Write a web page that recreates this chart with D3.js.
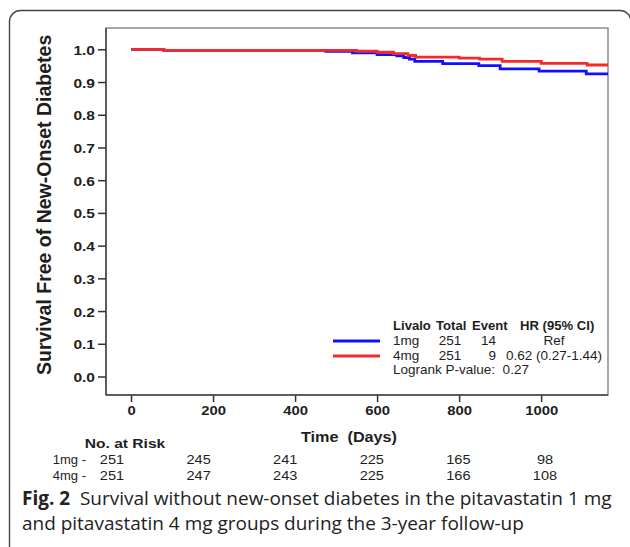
<!DOCTYPE html>
<html>
<head>
<meta charset="utf-8">
<script src="https://cdn.jsdelivr.net/npm/d3@7"></script>
<style>
  body { margin: 0; background: #fff; }
  svg text { font-family: "Liberation Sans", Arial, sans-serif; fill: #1e1e1e; }
  svg text.caption { font-family: "Open Sans", sans-serif; fill: #222; }
</style>
</head>
<body>
<div id="chart"></div>
<script>
// Kaplan-Meier steps (days, survival)
const days1mg = [0, 80, 475, 540, 600, 648, 665, 679, 692, 760, 848, 900, 995, 1110, 1163];
const surv1mg = [1.0, 0.997, 0.994, 0.989, 0.984, 0.980, 0.975, 0.970, 0.963, 0.956, 0.950, 0.940, 0.933, 0.925, 0.925];
const days4mg = [0, 80, 550, 600, 640, 675, 694, 800, 850, 905, 1000, 1112, 1163];
const surv4mg = [1.0, 0.997, 0.994, 0.991, 0.987, 0.981, 0.976, 0.973, 0.970, 0.963, 0.957, 0.952, 0.952];

const yTicks = [0, 0.1, 0.2, 0.3, 0.4, 0.5, 0.6, 0.7, 0.8, 0.9, 1.0];
const xTicks = [0, 200, 400, 600, 800, 1000];

// legend table
const groups = ["1mg", "4mg"];
const groupColors = ["#1010ff", "#f42a2a"];
const totals = [251, 251];
const events = [14, 9];
const hrText = ["Ref", "0.62 (0.27-1.44)"];
const logrankP = "0.27";

// number at risk
const riskDays = [0, 200, 400, 600, 800, 1000];
const risk1mg = [251, 245, 241, 225, 165, 98];
const risk4mg = [251, 247, 243, 225, 166, 108];

const W = 630, H = 547;
const plot = {left: 106, right: 608, top: 28, bottom: 395};

const svg = d3.select("#chart").append("svg")
    .attr("width", W).attr("height", H);

// figure box
svg.append("rect")
    .attr("x", 9.5).attr("y", 10.5)
    .attr("width", 621.5).attr("height", 560)
    .attr("rx", 11).attr("ry", 11)
    .attr("fill", "none").attr("stroke", "#444").attr("stroke-width", 1.4);

const x = d3.scaleLinear().domain([-61, 1163]).range([plot.left, plot.right]);
const y = d3.scaleLinear().domain([0, 1]).range([376.5, 49.3]);

// text that is a little stretched sideways like the original
function stretched(g, px, py, str, opts) {
    return g.append("text")
        .attr("transform", `translate(${px},${py}) scale(${opts.sx || 1},1)`)
        .attr("text-anchor", opts.anchor || "start")
        .style("font-size", opts.size + "px")
        .style("font-weight", opts.bold ? "bold" : "normal")
        .text(str);
}

// plot frame
svg.append("rect")
    .attr("x", plot.left).attr("y", plot.top)
    .attr("width", plot.right - plot.left).attr("height", plot.bottom - plot.top)
    .attr("fill", "none").attr("stroke", "#8a8a8a").attr("stroke-width", 1.5);

// y axis
const yAxis = svg.append("g")
    .attr("transform", `translate(${plot.left},0)`)
    .call(d3.axisLeft(y).tickValues(yTicks).tickSize(8).tickFormat(() => ""));
yAxis.select(".domain").remove();
yAxis.selectAll(".tick line").attr("stroke", "#333").attr("stroke-width", 1.5);
yAxis.selectAll(".tick").each(function (d) {
    stretched(d3.select(this), -11, 5, d3.format(".1f")(d), {size: 13.5, bold: true, sx: 1.15, anchor: "end"});
});

// x axis
const xAxis = svg.append("g")
    .attr("transform", `translate(0,${plot.bottom})`)
    .call(d3.axisBottom(x).tickValues(xTicks).tickSize(7).tickFormat(() => ""));
xAxis.select(".domain").remove();
xAxis.selectAll(".tick line").attr("stroke", "#333").attr("stroke-width", 1.5);
xAxis.selectAll(".tick").each(function (d) {
    stretched(d3.select(this), 0, 20, String(d), {size: 13.5, bold: true, sx: 1.1, anchor: "middle"});
});

// darker left and bottom axis lines
svg.append("line")
    .attr("x1", plot.left).attr("x2", plot.left)
    .attr("y1", plot.top).attr("y2", plot.bottom)
    .attr("stroke", "#444").attr("stroke-width", 1.5);
svg.append("line")
    .attr("x1", plot.left).attr("x2", plot.right)
    .attr("y1", plot.bottom).attr("y2", plot.bottom)
    .attr("stroke", "#444").attr("stroke-width", 1.5);

// axis titles
svg.append("text")
    .attr("transform", `translate(51,${(y(1) + y(0)) / 2 - 8}) rotate(-90)`)
    .attr("text-anchor", "middle")
    .style("font-size", "19.5px").style("font-weight", "bold")
    .text("Survival Free of New-Onset Diabetes");

stretched(svg, 349, 442, "Time\u00a0\u00a0(Days)", {size: 15, bold: true, sx: 1.08, anchor: "middle"});

// survival curves
const line = d3.line()
    .x(d => x(d[0]))
    .y(d => y(d[1]))
    .curve(d3.curveStepAfter);

const series = [
    d3.zip(days1mg, surv1mg),
    d3.zip(days4mg, surv4mg)
];
svg.append("g").selectAll("path")
    .data(series)
    .join("path")
    .attr("d", line)
    .attr("fill", "none")
    .attr("stroke", (d, i) => groupColors[i])
    .attr("stroke-width", 2.8);

// legend
const leg = svg.append("g");
stretched(leg, 393, 330, "Livalo", {size: 12.5, bold: true, sx: 1.05});
stretched(leg, 436, 330, "Total", {size: 12.5, bold: true, sx: 1.05});
stretched(leg, 472, 330, "Event", {size: 12.5, bold: true, sx: 1.05});
stretched(leg, 520, 330, "HR (95% CI)", {size: 12.5, bold: true, sx: 1.05});
groups.forEach((gname, i) => {
    const by = 345 + i * 15;
    leg.append("line")
        .attr("x1", 333).attr("x2", 380)
        .attr("y1", by - 4).attr("y2", by - 4)
        .attr("stroke", groupColors[i]).attr("stroke-width", 2.8);
    stretched(leg, 393, by, gname, {size: 13, sx: 1.04});
    stretched(leg, 450, by, String(totals[i]), {size: 13, sx: 1.04, anchor: "middle"});
    stretched(leg, 496, by, String(events[i]), {size: 13, sx: 1.04, anchor: "end"});
    stretched(leg, 554, by, hrText[i], {size: 13, sx: 1.04, anchor: "middle"});
});
stretched(leg, 393, 374, "Logrank P-value:\u00a0\u00a0" + logrankP, {size: 13, sx: 1.04});

// number at risk table
const rx = d3.scaleLinear().domain([0, 1000]).range([112, 545]);
stretched(svg, 125, 448, "No. at Risk", {size: 13, bold: true, sx: 1.2, anchor: "middle"});
[["1mg -", risk1mg], ["4mg -", risk4mg]].forEach(([lab, vals], i) => {
    const by = 464 + i * 15.5;
    stretched(svg, 86, by, lab, {size: 13, sx: 1.0, anchor: "end"});
    vals.forEach((v, j) => {
        stretched(svg, rx(riskDays[j]), by, String(v), {size: 13, sx: 1.12, anchor: "middle"});
    });
});

// caption
const cap1 = svg.append("text").attr("class", "caption")
    .attr("x", 22).attr("y", 505).style("font-size", "19px");
cap1.append("tspan").style("font-weight", "bold").text("Fig. 2");
cap1.append("tspan").text("\u00a0\u00a0Survival without new-onset diabetes in the pitavastatin 1 mg");
const cap2 = svg.append("text").attr("class", "caption")
    .attr("x", 22).attr("y", 530).style("font-size", "19px")
    .text("and pitavastatin 4 mg groups during the 3-year follow-up");
// fit the first caption line to its width in the figure
const len = cap1.node().getComputedTextLength();
const fs = Math.min(19, 19 * 590 / len);
cap1.style("font-size", fs + "px");
cap2.style("font-size", fs + "px");
</script>
</body>
</html>
